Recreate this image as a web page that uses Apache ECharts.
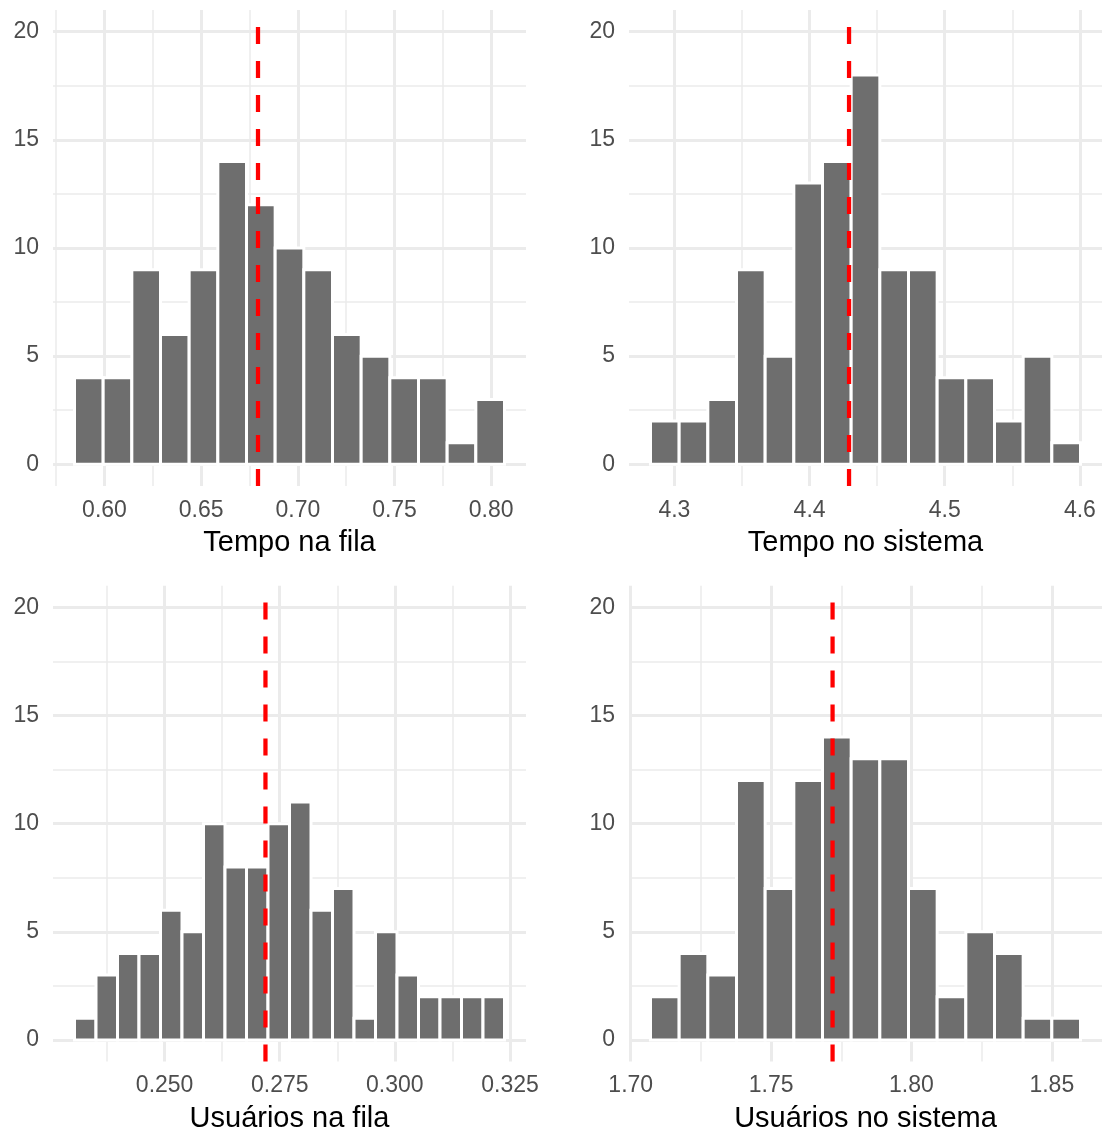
<!DOCTYPE html>
<html><head><meta charset="utf-8">
<script src="https://cdn.jsdelivr.net/npm/echarts@6/dist/echarts.min.js"></script>
<style>html,body{margin:0;padding:0;background:#fff}#c{width:1106px;height:1133px}</style>
</head><body><div id="c"></div>
<script>
// ---------- data ----------
const tempoFilaCounts = [4, 4, 9, 6, 9, 14, 12, 10, 9, 6, 5, 4, 4, 1, 3];
const tempoFilaStart = 0.5845;
const tempoFilaBinWidth = 0.014825;
const tempoFilaMean = 0.6794;
const tempoFilaTicks = [0.60, 0.65, 0.70, 0.75, 0.80];
const tempoFilaMinor = [0.575, 0.625, 0.675, 0.725, 0.775];

const tempoSistemaCounts = [2, 2, 3, 9, 5, 13, 14, 18, 9, 9, 4, 4, 2, 5, 1];
const tempoSistemaStart = 4.2823;
const tempoSistemaBinWidth = 0.02121;
const tempoSistemaMean = 4.4292;
const tempoSistemaTicks = [4.3, 4.4, 4.5, 4.6];
const tempoSistemaMinor = [4.35, 4.45, 4.55];

const usuariosFilaCounts = [1, 3, 4, 4, 6, 5, 10, 8, 8, 10, 11, 6, 7, 1, 5, 3, 2, 2, 2, 2];
const usuariosFilaStart = 0.23043;
const usuariosFilaBinWidth = 0.004669;
const usuariosFilaMean = 0.2719;
const usuariosFilaTicks = [0.250, 0.275, 0.300, 0.325];
const usuariosFilaMinor = [0.2375, 0.2625, 0.2875, 0.3125];

const usuariosSistemaCounts = [2, 4, 3, 12, 7, 12, 14, 13, 13, 7, 2, 5, 4, 1, 1];
const usuariosSistemaStart = 1.70704;
const usuariosSistemaBinWidth = 0.010212;
const usuariosSistemaMean = 1.7719;
const usuariosSistemaTicks = [1.70, 1.75, 1.80, 1.85];
const usuariosSistemaMinor = [1.725, 1.775, 1.825];

const yTicks = [0, 5, 10, 15, 20];
const yMinor = [2.5, 7.5, 12.5, 17.5];
const yMin = -1, yMax = 21;

const titles = ['Tempo na fila', 'Tempo no sistema', 'Usuários na fila', 'Usuários no sistema'];

// ---------- layout / style ----------
const panels = [
  {title: titles[0], counts: tempoFilaCounts, start: tempoFilaStart, bw: tempoFilaBinWidth, mean: tempoFilaMean, ticks: tempoFilaTicks, minor: tempoFilaMinor, dec: 2,
   grid: {left: 53, top: 10.1, width: 473, height: 475.8}},
  {title: titles[1], counts: tempoSistemaCounts, start: tempoSistemaStart, bw: tempoSistemaBinWidth, mean: tempoSistemaMean, ticks: tempoSistemaTicks, minor: tempoSistemaMinor, dec: 1,
   grid: {left: 629, top: 10.1, width: 473, height: 475.8}},
  {title: titles[2], counts: usuariosFilaCounts, start: usuariosFilaStart, bw: usuariosFilaBinWidth, mean: usuariosFilaMean, ticks: usuariosFilaTicks, minor: usuariosFilaMinor, dec: 3,
   grid: {left: 53, top: 585.7, width: 473, height: 475.9}},
  {title: titles[3], counts: usuariosSistemaCounts, start: usuariosSistemaStart, bw: usuariosSistemaBinWidth, mean: usuariosSistemaMean, ticks: usuariosSistemaTicks, minor: usuariosSistemaMinor, dec: 2,
   grid: {left: 629, top: 585.7, width: 473, height: 475.9}}
];

const FONT = "'Liberation Sans', Arial, Helvetica, sans-serif";
const GRID_COLOR = '#EBEBEB';
const BAR_FILL = '#6E6E6E';

const grids = [], xAxes = [], yAxes = [], series = [];

panels.forEach((p, i) => {
  grids.push(Object.assign({outerBoundsMode: 'none', containLabel: false}, p.grid));
  const lo = p.start, hi = p.start + p.counts.length * p.bw;
  const pad = 0.05 * (hi - lo);
  const xmin = lo - pad, xmax = hi + pad;
  // major x axis
  xAxes.push({
    type: 'value', gridIndex: i, min: xmin, max: xmax, position: 'bottom',
    axisLine: {show: false}, axisTick: {show: false, customValues: p.ticks},
    axisLabel: {customValues: p.ticks, formatter: v => Number(v).toFixed(p.dec), color: '#4D4D4D', fontSize: 23, fontFamily: FONT, margin: 13},
    splitLine: {show: true, lineStyle: {color: GRID_COLOR, width: 3}},
    name: p.title, nameLocation: 'middle', nameGap: 43,
    nameTextStyle: {color: '#000000', fontSize: 29, fontFamily: FONT}
  });
  // minor x axis
  xAxes.push({
    type: 'value', gridIndex: i, min: xmin, max: xmax, position: 'bottom',
    axisLine: {show: false}, axisTick: {show: false, customValues: p.minor},
    axisLabel: {show: false, customValues: p.minor},
    splitLine: {show: true, lineStyle: {color: GRID_COLOR, width: 1.5}}
  });
  yAxes.push({
    type: 'value', gridIndex: i, min: yMin, max: yMax, position: 'left',
    axisLine: {show: false}, axisTick: {show: false, customValues: yTicks},
    axisLabel: {customValues: yTicks, color: '#4D4D4D', fontSize: 23, fontFamily: FONT, margin: 14, padding: [4, 0, 0, 0]},
    splitLine: {show: true, lineStyle: {color: GRID_COLOR, width: 3}}
  });
  yAxes.push({
    type: 'value', gridIndex: i, min: yMin, max: yMax, position: 'left',
    axisLine: {show: false}, axisTick: {show: false, customValues: yMinor},
    axisLabel: {show: false, customValues: yMinor},
    splitLine: {show: true, lineStyle: {color: GRID_COLOR, width: 1.5}}
  });
  const bins = p.counts.map((c, k) => [p.start + k * p.bw, p.start + (k + 1) * p.bw, c]);
  series.push({
    type: 'custom', xAxisIndex: 2 * i, yAxisIndex: 2 * i, z: 2,
    data: bins, encode: {x: [0, 1], y: 2},
    renderItem: (params, api) => {
      const a = api.coord([api.value(0), 0]);
      const b = api.coord([api.value(1), api.value(2)]);
      return {type: 'rect', shape: {x: a[0], y: b[1], width: b[0] - a[0], height: a[1] - b[1]},
              style: {fill: BAR_FILL, stroke: '#FFFFFF', lineWidth: 3}};
    },
    silent: true
  });
  series.push({
    type: 'line', xAxisIndex: 2 * i, yAxisIndex: 2 * i, z: 5,
    data: [[p.mean, yMin], [p.mean, yMax]], symbol: 'none', silent: true,
    lineStyle: {color: '#FF0000', width: 4.25, type: [17, 17]}
  });
});

const chart = echarts.init(document.getElementById('c'), null, {renderer: 'canvas'});
chart.setOption({
  backgroundColor: '#FFFFFF', animation: false,
  grid: grids, xAxis: xAxes, yAxis: yAxes, series: series
});
</script></body></html>
